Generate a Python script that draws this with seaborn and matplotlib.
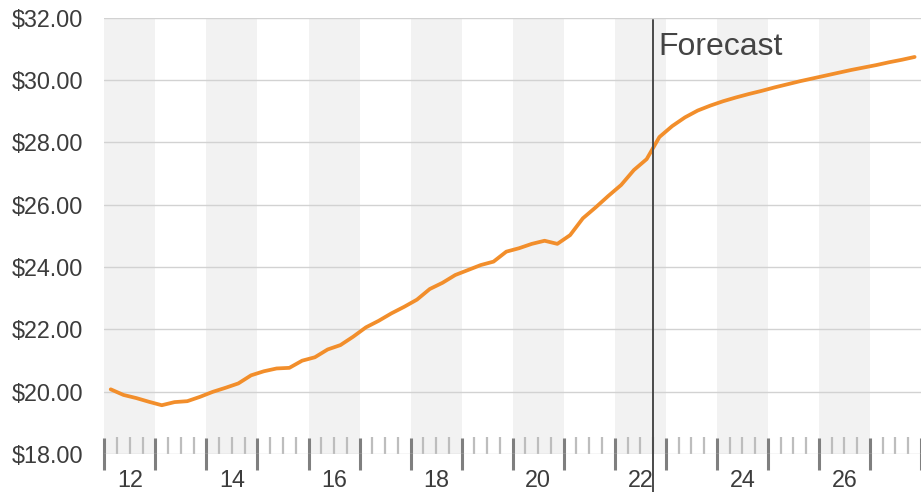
import numpy as np
import pandas as pd
import matplotlib
matplotlib.use("Agg")
import matplotlib.pyplot as plt
import seaborn as sns

# quarterly series, 2012Q1 .. 2027Q4 (actuals through 2022Q3, forecast after)
start_quarter = "2012Q1"
end_quarter = "2027Q4"
actual_values = [
    20.07, 19.89, 19.79, 19.67, 19.56, 19.66, 19.69, 19.83,
    19.99, 20.12, 20.26, 20.52, 20.65, 20.74, 20.76, 20.99,
    21.10, 21.35, 21.49, 21.76, 22.06, 22.27, 22.51, 22.72,
    22.95, 23.29, 23.49, 23.74, 23.90, 24.06, 24.17, 24.49,
    24.60, 24.74, 24.84, 24.74, 25.02, 25.56, 25.91, 26.28,
    26.63, 27.11, 27.46,
]
forecast_values = [
    28.17, 28.52, 28.80, 29.02, 29.18, 29.32, 29.44, 29.55,
    29.65, 29.76, 29.86, 29.96, 30.05, 30.14, 30.23, 30.32,
    30.40, 30.48, 30.57, 30.65, 30.74,
]
forecast_start = 2022.75
forecast_label = "Forecast"
y_ticks = [18, 20, 22, 24, 26, 28, 30, 32]
label_years = [12, 14, 16, 18, 20, 22, 24, 26]
band_years = [2012, 2014, 2016, 2018, 2020, 2022, 2024, 2026]

quarters = pd.period_range(start_quarter, end_quarter, freq="Q")
df = pd.DataFrame({
    "x": quarters.year + (quarters.quarter - 0.5) / 4,
    "value": actual_values + forecast_values,
})

sns.set_style("white")
plt.rcParams["font.family"] = ["Liberation Sans", "DejaVu Sans"]

fig = plt.figure(figsize=(9.21, 4.92), dpi=100)
ax = fig.add_axes([0.1133, 0.0776, 0.8867, 0.8864])

for yr in band_years:
    ax.axvspan(yr, yr + 1, color="#f2f2f2", lw=0, zorder=0)

ax.set_ylim(18, 32)
ax.set_xlim(2012, 2028)
ax.set_yticks(y_ticks)
ax.set_yticklabels([f"${v:.2f}" for v in y_ticks])
ax.yaxis.grid(True, color="#d2d2d2", lw=1.0, zorder=1)
ax.set_axisbelow(True)

sns.lineplot(data=df, x="x", y="value", ax=ax, color="#F28E2B", lw=2.7, zorder=3)

ax.axvline(forecast_start, ymin=-0.088, ymax=0.995, color="#4a4a4a", lw=1.4,
           clip_on=False, zorder=4)
ax.annotate(forecast_label, xy=(forecast_start, 32), xytext=(3.5, -27),
            textcoords="offset points", ha="left", va="baseline",
            fontsize=23, color="#444444")

for s in ax.spines.values():
    s.set_visible(False)

# year boundary ticks + quarter ticks
ax.set_xticks(np.arange(2012, 2029, 1))
ax.set_xticklabels([])
ax.set_xticks([y + q / 4 for y in range(2012, 2028) for q in (1, 2, 3)], minor=True)
ax.tick_params(axis="x", which="major", direction="inout", length=23, width=2.2,
               color="#7f7f7f", bottom=True)
ax.tick_params(axis="x", which="minor", direction="in", length=12, width=1.6,
               color="#bdbdbd", bottom=True)
ax.tick_params(axis="y", length=0, pad=15, labelsize=16.8, labelcolor="#3c3c3c")
ax.set_xlabel("")
ax.set_ylabel("")

sec = ax.secondary_xaxis("bottom")
sec.set_xticks([2000 + y + 0.5 for y in label_years])
sec.set_xticklabels([str(y) for y in label_years])
sec.tick_params(length=0, pad=11, labelsize=16.8, labelcolor="#3c3c3c")
for s in sec.spines.values():
    s.set_visible(False)

fig.savefig("out.png", dpi=100)
